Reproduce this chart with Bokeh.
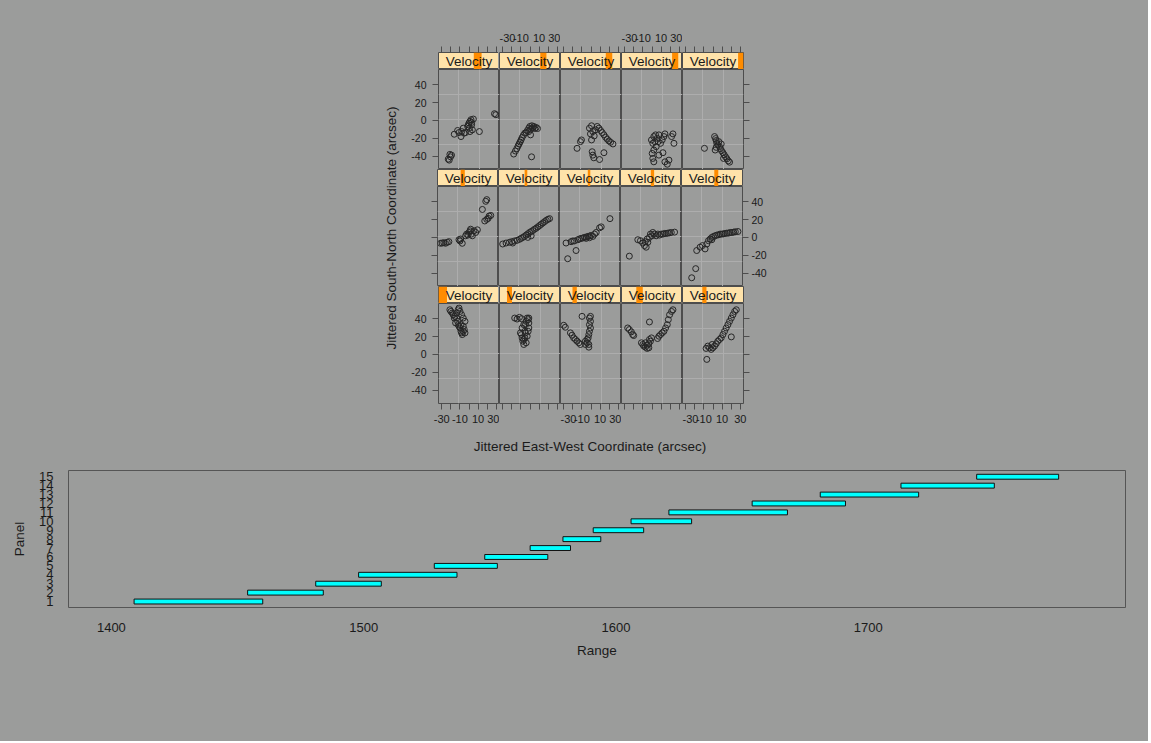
from bokeh.plotting import figure
from bokeh.layouts import row, column
from bokeh.models import Range1d, LinearAxis, FixedTicker, Grid
from bokeh.embed import file_html
from bokeh.resources import INLINE
from bokeh.core.properties import value

# ---------------- data ----------------
panel_ids = list(range(1, 16))
vel_lo = [1409, 1454, 1481, 1498, 1528, 1548, 1566, 1579, 1591, 1606, 1621, 1654, 1681, 1713, 1743]
vel_hi = [1460, 1484, 1507, 1537, 1553, 1573, 1582, 1594, 1611, 1630, 1668, 1691, 1720, 1750, 1775.5]
strip_label = "Velocity"

ew_p01 = [-21.0, -19.9, -18.4, -17.3, -15.5, -13.6, -12.5, -11.8, -11.0, -9.9, -8.8, -8.1, -7.4, -6.3, -5.2,
          -11.8, -9.9, -8.1, -6.3, -4.4, -11.0, -13.6, -16.2, -14.7, -8.8, -6.3, -4.4]
ns_p01 = [50.0, 48.1, 46.3, 44.4, 42.6, 40.7, 37.0, 33.3, 31.5, 29.6, 25.9, 24.1, 22.2, 25.9, 27.8,
          50.0, 48.1, 44.4, 40.7, 37.0, 51.9, 46.3, 40.7, 35.2, 33.3, 31.5, 24.1]
ew_p02 = [-16.8, -14.2, -11.6, -9.4, -8.7, -9.4, -8.7, -7.9, -6.8, -5.7, -5.0, -4.2, -3.1, -2.0, -1.3,
          -1.3, -3.1, -4.2, -5.0, -10.5, -6.8, -2.0, -1.3, -5.7, -6.8]
ns_p02 = [40.7, 39.6, 41.5, 40.0, 29.6, 22.2, 18.5, 14.8, 16.7, 25.9, 33.3, 37.0, 40.7, 38.9, 35.2,
          29.6, 20.4, 13.0, 24.1, 24.1, 33.3, 25.9, 40.7, 18.5, 11.1]
ew_p03 = [-30.0, -28.2, -22.6, -20.8, -19.0, -17.1, -15.3, -13.4, -11.6, -9.8, -6.1, -4.2, -3.1, -2.4,
          -1.7, -1.7, -1.7, -0.6, -0.6, -0.6, -2.4, -2.4, -4.2, -6.1]
ns_p03 = [32.6, 30.4, 24.1, 21.5, 18.5, 16.7, 14.8, 13.0, 11.1, 42.6, 14.8, 16.7, 18.5, 22.2,
          25.9, 33.3, 40.7, 42.6, 37.0, 29.6, 11.1, 8.1, 13.0, 11.1]
ew_p04 = [-26.7, -24.9, -22.7, -21.2, -20.1, -11.6, -10.1, -9.0, -7.2, -5.3, -3.5, -2.8, -1.7, -0.6, -3.5,
          -5.3, -7.2, -2.8, 6.1, 7.6, 9.4, 11.2, 13.1, 14.9, 16.8, 17.9, 19.3, 21.5, 23.0]
ns_p04 = [29.6, 27.8, 25.2, 22.2, 21.1, 13.0, 11.1, 9.3, 8.1, 10.4, 11.9, 16.7, 14.8, 18.5, 7.4,
          6.7, 13.0, 36.3, 17.8, 20.4, 22.2, 24.1, 25.9, 29.6, 33.3, 38.9, 44.4, 48.1, 50.0]
ew_p05 = [-6.8, -7.6, -3.9, -2.0, -0.2, 1.7, 3.5, 5.3, 7.2, 9.0, 10.9, 12.7, 14.5, 16.4, 18.2, 20.1,
          21.9, 23.8, 25.6, 20.1, -0.9, -5.7]
ns_p05 = [-5.6, 6.7, 7.4, 5.6, 7.4, 9.3, 11.9, 14.8, 16.7, 18.5, 22.2, 25.9, 29.6, 33.3, 37.0, 40.7,
          44.4, 48.1, 50.0, 19.6, 11.1, 9.3]
ew_p06 = [-30.2, -28.4, -26.5, -24.7, -22.8, -21.0, -9.9, -8.1, -6.3, -8.8, -2.6, -1.5, 0.0, 1.1, 2.2,
          2.9, 3.7, 4.8, 6.6, 8.5, 10.3, 15.8, 19.5, 20.6, 18.4, 20.6, 23.2, 25.0, 22.1]
ns_p06 = [-6.6, -6.3, -5.9, -6.6, -5.5, -4.8, -2.6, -1.8, -6.6, -4.0, 1.8, 3.7, 2.6, 5.5, 7.4,
          9.2, 3.7, 1.8, 7.4, 5.5, 8.5, 31.3, 40.4, 42.3, 18.4, 20.2, 23.9, 24.6, 21.3]
ew_p07 = [-28.9, -25.2, -21.5, -19.0, -16.0, -13.1, -10.5, -8.7, -6.8, -5.0, -3.1, -1.3, 0.6, 2.4, 4.2,
          6.1, 7.9, 9.8, 11.6, 13.4, 15.3, 17.1, 19.0, 20.8, 22.6, -1.3, 2.4, -17.9]
ns_p07 = [-7.4, -6.3, -5.5, -4.8, -4.0, -3.3, -2.2, -1.1, 0.0, 1.1, 2.6, 4.0, 5.5, 6.6, 7.7,
          9.2, 10.3, 11.8, 13.2, 14.7, 16.2, 17.6, 19.1, 20.2, 21.0, 0.0, 1.8, -6.3]
ew_p08 = [-26.3, -24.5, -15.3, -20.8, -19.0, -17.1, -13.4, -11.6, -9.8, -7.9, -6.1, -4.2, -2.4, -0.6,
          1.3, 3.1, 5.0, 6.8, 10.5, 12.3, 21.9, -4.2, -0.6]
ns_p08 = [-6.3, -23.9, -14.7, -4.8, -4.0, -4.0, -2.6, -1.8, -1.1, -0.7, 0.0, 0.4, 1.1, 1.5,
          2.2, 1.1, 3.7, 5.5, 10.7, 11.8, 21.0, -1.1, -0.4]
ew_p09 = [-23.8, -14.5, -11.6, -9.0, -7.2, -5.3, -3.5, -4.2, -1.7, -0.6, 0.9, 2.0, 3.9, 5.7, 7.6, 9.4,
          11.2, 13.1, 14.9, 16.8, 18.6, 20.4, 22.3, 25.9, -6.4]
ns_p09 = [-21.0, -2.6, -3.7, -6.3, -9.2, -11.0, -5.5, -1.8, 0.0, 3.7, 1.8, 5.5, 3.7, 1.8, 3.7, 2.6,
          3.7, 3.7, 4.4, 4.4, 4.8, 5.1, 5.5, 5.9, -4.8]
ew_p10 = [-22.3, -17.9, -16.8, -13.1, -10.5, -7.6, -5.7, -3.9, -2.0, -0.2, 1.7, 3.5, 5.3, 7.2, 9.0,
          10.9, 12.7, 14.5, 16.4, 18.2, 20.1, 21.9, 23.8, 25.6, 28.5, -0.2]
ns_p10 = [-45.2, -35.0, -14.7, -11.0, -9.2, -12.9, -7.4, -3.7, -1.8, 0.0, 1.1, 1.8, 2.6, 2.9, 3.7,
          3.7, 4.0, 4.4, 4.8, 4.8, 5.5, 5.5, 5.9, 6.3, 6.6, -2.6]
ew_p11 = [-21.0, -20.3, -22.8, -21.7, -19.2, -16.2, -12.5, -11.0, -8.8, -8.1, -6.3, -5.5, -3.7, -1.5,
          0.0, 1.1, 2.2, 2.9, 1.1, 3.7, 4.8, 2.9, -0.7, 0.4, 11.4, 28.0, 29.5]
ns_p11 = [-38.1, -40.8, -43.4, -44.5, -38.9, -15.5, -11.3, -13.6, -18.1, -12.5, -8.7, -14.3, -13.6, -6.8,
          -3.0, -1.1, 0.8, -4.9, -12.5, -10.6, 1.5, -2.3, -4.9, -8.7, -12.5, 7.5, 6.4]
ew_p12 = [-17.9, -16.0, -14.5, -13.1, -12.0, -10.9, -9.8, -8.7, -7.2, -5.7, -4.2, -2.8, -1.3, -0.2,
          0.9, 2.0, 3.1, 4.2, 5.3, 6.8, 8.3, 0.6, 1.7, -1.3]
ns_p12 = [-37.7, -34.3, -31.7, -28.7, -26.4, -24.2, -21.9, -19.2, -16.6, -14.3, -13.6, -11.3, -8.7, -6.8,
          -9.8, -6.0, -8.3, -6.8, -9.1, -7.9, -9.1, -16.2, -40.8, -12.5]
ew_p13 = [-15.3, -11.6, -10.5, -1.7, -0.6, 0.6, 2.0, 3.5, 5.0, 6.8, 8.7, 10.5, 12.3, 14.2, 16.0, 17.9,
          19.7, 21.5, 24.1, 1.3, 2.0, 3.1, 9.4, 14.2, 0.6]
ns_p13 = [-31.3, -23.8, -21.9, -8.7, -15.1, -6.0, -12.5, -17.4, -10.6, -6.8, -8.7, -11.3, -13.6, -16.2,
          -18.9, -21.1, -23.0, -24.5, -26.4, -35.1, -38.9, -41.9, -43.8, -36.2, -21.9]
ew_p14 = [-0.6, 0.9, 2.0, 3.1, 3.9, 4.6, 5.7, 6.8, 7.6, 9.4, 11.2, 13.1, 14.2, 0.2, 0.9, 2.0, 7.6, 12.0,
          14.2, 16.8, 18.6, 21.5, 24.1, 23.0, 2.0]
ns_p14 = [-21.9, -25.7, -18.1, -23.8, -16.2, -29.4, -20.0, -23.8, -16.2, -25.7, -21.9, -18.1, -15.1, -37.0,
          -42.6, -46.4, -38.9, -36.2, -46.4, -49.1, -44.5, -18.1, -25.7, -15.1, -33.2]
ew_p15 = [-9.4, 1.7, 2.8, 3.5, 4.2, 5.3, 6.4, 7.2, 8.3, 9.4, 10.9, 12.3, 13.8, 15.3, 16.8, 18.2, 3.5,
          9.0, 11.6, 2.4]
ns_p15 = [-31.3, -18.1, -20.4, -22.6, -25.7, -27.5, -23.8, -29.4, -31.7, -34.0, -36.2, -38.5, -40.8,
          -43.0, -45.3, -46.8, -30.2, -26.4, -42.6, -33.2]

ew_all = [ew_p01, ew_p02, ew_p03, ew_p04, ew_p05, ew_p06, ew_p07, ew_p08, ew_p09, ew_p10,
          ew_p11, ew_p12, ew_p13, ew_p14, ew_p15]
ns_all = [ns_p01, ns_p02, ns_p03, ns_p04, ns_p05, ns_p06, ns_p07, ns_p08, ns_p09, ns_p10,
          ns_p11, ns_p12, ns_p13, ns_p14, ns_p15]

x_ticks = [-30, -20, -10, 0, 10, 20, 30]
x_labelled = [-30, -10, 10, 30]
y_ticks = [-40, -20, 0, 20, 40]
range_ticks = [1400, 1500, 1600, 1700]

# ---------------- style ----------------
BG = "#9b9c9b"
GRIDC = "#adadad"
OUT = "#4d4d4d"
STRIP_BG = "#ffe3aa"
ORANGE = "#ff8c00"
PT = "#262626"
TXT = "#1a1a1a"
FONT = "Liberation Sans"
XR = (-33.5, 33.5)
YR = (-55.0, 57.0)
VR = (min(vel_lo), max(vel_hi))
FW, PH, SH = 61, 100, 17
LEFT_B, RIGHT_B, TOP_B, BOT_B = 29, 405, 52, 30
CSS = {"background-color": BG}


def base_fig(fw, fh, xr, yr, **kw):
    f = figure(frame_width=fw, frame_height=fh, x_range=Range1d(*xr), y_range=Range1d(*yr),
               x_axis_type=None, y_axis_type=None, toolbar_location=None, output_backend="svg",
               background_fill_color=BG, border_fill_color=BG, outline_line_color=OUT,
               min_border_left=kw.get("l", 0), min_border_right=kw.get("r", 0),
               min_border_top=kw.get("t", 0), min_border_bottom=kw.get("b", 0))
    return f


def style_axis(ax, ticks, shown, size="10.5px", out=6, standoff=4):
    ax.ticker = FixedTicker(ticks=ticks)
    ax.major_label_overrides = {t: (str(t) if t in shown else "") for t in ticks}
    ax.axis_line_color = None
    ax.major_tick_out = out
    ax.major_tick_in = 0
    ax.minor_tick_out = 0
    ax.minor_tick_in = 0
    ax.major_tick_line_color = OUT
    ax.major_label_text_font = FONT
    ax.major_label_text_font_size = size
    ax.major_label_text_color = TXT
    ax.major_label_standoff = standoff
    return ax


cells_by_row = []
for r in range(3):  # r = 0 top row
    cells = []
    for c in range(5):
        idx = (2 - r) * 5 + c  # lattice: panel 1 bottom-left
        l = LEFT_B if c == 0 else 0
        rb = RIGHT_B if c == 4 else 0
        # strip
        s = base_fig(FW, SH, XR, (0, 1), l=l, r=rb, t=(TOP_B if r == 0 else 0))
        s.background_fill_color = STRIP_BG
        s.extra_x_ranges = {"vel": Range1d(*VR)}
        s.quad(left=[vel_lo[idx]], right=[vel_hi[idx]], bottom=[0], top=[1],
               x_range_name="vel", fill_color=ORANGE, line_color=None)
        s.text(x=[(XR[0] + XR[1]) / 2], y=[0.5], text=[strip_label], text_align="center",
               text_baseline="middle", text_font=value(FONT), text_font_size="13.5px",
               text_color=TXT)
        if r == 0:
            shown = x_labelled if c in (1, 3) else []
            s.add_layout(style_axis(LinearAxis(), x_ticks, shown, size="11px", standoff=5), "above")
        # panel
        p = base_fig(FW, PH, XR, YR, l=l, r=rb, b=(BOT_B if r == 2 else 0))
        xg = [XR[0] + (XR[1] - XR[0]) * k / 3 for k in (1, 2)]
        yg = [YR[0] + (YR[1] - YR[0]) * k / 4 for k in (1, 2, 3)]
        p.add_layout(Grid(dimension=0, ticker=FixedTicker(ticks=xg), grid_line_color=GRIDC))
        p.add_layout(Grid(dimension=1, ticker=FixedTicker(ticks=yg), grid_line_color=GRIDC))
        p.scatter(ew_all[idx], ns_all[idx], size=6, marker="circle", fill_color=None,
                  line_color=PT, line_width=1)
        if c == 0:
            shown = y_ticks if r in (0, 2) else []
            p.add_layout(style_axis(LinearAxis(), y_ticks, shown, standoff=6), "left")
        if c == 4:
            shown = y_ticks if r == 1 else []
            p.add_layout(style_axis(LinearAxis(), y_ticks, shown, standoff=3), "right")
        if r == 2:
            shown = x_labelled if c in (0, 2, 4) else []
            p.add_layout(style_axis(LinearAxis(), x_ticks, shown, size="11px", standoff=5), "below")
        cells.append(column(s, p, styles=CSS))
    cells_by_row.append(row(*cells, styles=CSS))

# x label figure
xl = base_fig(FW * 5, 1, XR, (0, 1), l=LEFT_B, r=RIGHT_B, b=21)
xl.outline_line_color = None
xax = LinearAxis(ticker=FixedTicker(ticks=[]), axis_label="Jittered East-West Coordinate (arcsec)",
                 axis_line_color=None, major_tick_out=0, major_tick_in=0, major_label_standoff=0,
                 axis_label_standoff=4, axis_label_text_font=FONT, axis_label_text_font_size="13.5px",
                 axis_label_text_font_style="normal", axis_label_text_color=TXT)
xl.add_layout(xax, "below")

# y label figure
yl = base_fig(1, 351, (0, 1), YR, l=407, t=TOP_B, b=52)
yl.outline_line_color = None
yax = LinearAxis(ticker=FixedTicker(ticks=[]), axis_label="Jittered South-North Coordinate (arcsec)",
                 axis_line_color=None, major_tick_out=0, major_tick_in=0, major_label_standoff=0,
                 axis_label_standoff=9, axis_label_text_font=FONT, axis_label_text_font_size="13.5px",
                 axis_label_text_font_style="normal", axis_label_text_color=TXT)
yl.add_layout(yax, "left")

top = row(yl, column(*cells_by_row, xl, styles=CSS), styles=CSS)

# ---------------- shingle range plot ----------------
b = figure(frame_width=1057, frame_height=137, min_border_left=68, min_border_right=22,
           min_border_top=14, min_border_bottom=134, x_range=Range1d(1383, 1802),
           y_range=Range1d(0.33, 15.7), toolbar_location=None, output_backend="svg",
           background_fill_color=BG, border_fill_color=BG, outline_line_color="#555555")
b.grid.visible = False
b.hbar(y=panel_ids, left=vel_lo, right=vel_hi, height=0.55, fill_color="#00ffff",
       line_color="#111111", line_width=1)
for ax in (b.xaxis[0], b.yaxis[0]):
    ax.axis_line_color = None
    ax.major_tick_out = 0
    ax.major_tick_in = 0
    ax.minor_tick_out = 0
    ax.minor_tick_in = 0
    ax.major_label_text_font = FONT
    ax.major_label_text_font_size = "13px"
    ax.major_label_text_color = TXT
    ax.axis_label_text_font = FONT
    ax.axis_label_text_font_size = "13.5px"
    ax.axis_label_text_font_style = "normal"
    ax.axis_label_text_color = TXT
b.xaxis.ticker = FixedTicker(ticks=range_ticks)
b.yaxis.ticker = FixedTicker(ticks=panel_ids)
b.xaxis.axis_label = "Range"
b.yaxis.axis_label = "Panel"
b.xaxis.major_label_standoff = 15
b.xaxis.axis_label_standoff = 8
b.yaxis.major_label_standoff = 15
b.yaxis.axis_label_standoff = 9

page = column(top, b, styles=CSS)
open("out.html", "w").write(file_html(page, INLINE))
